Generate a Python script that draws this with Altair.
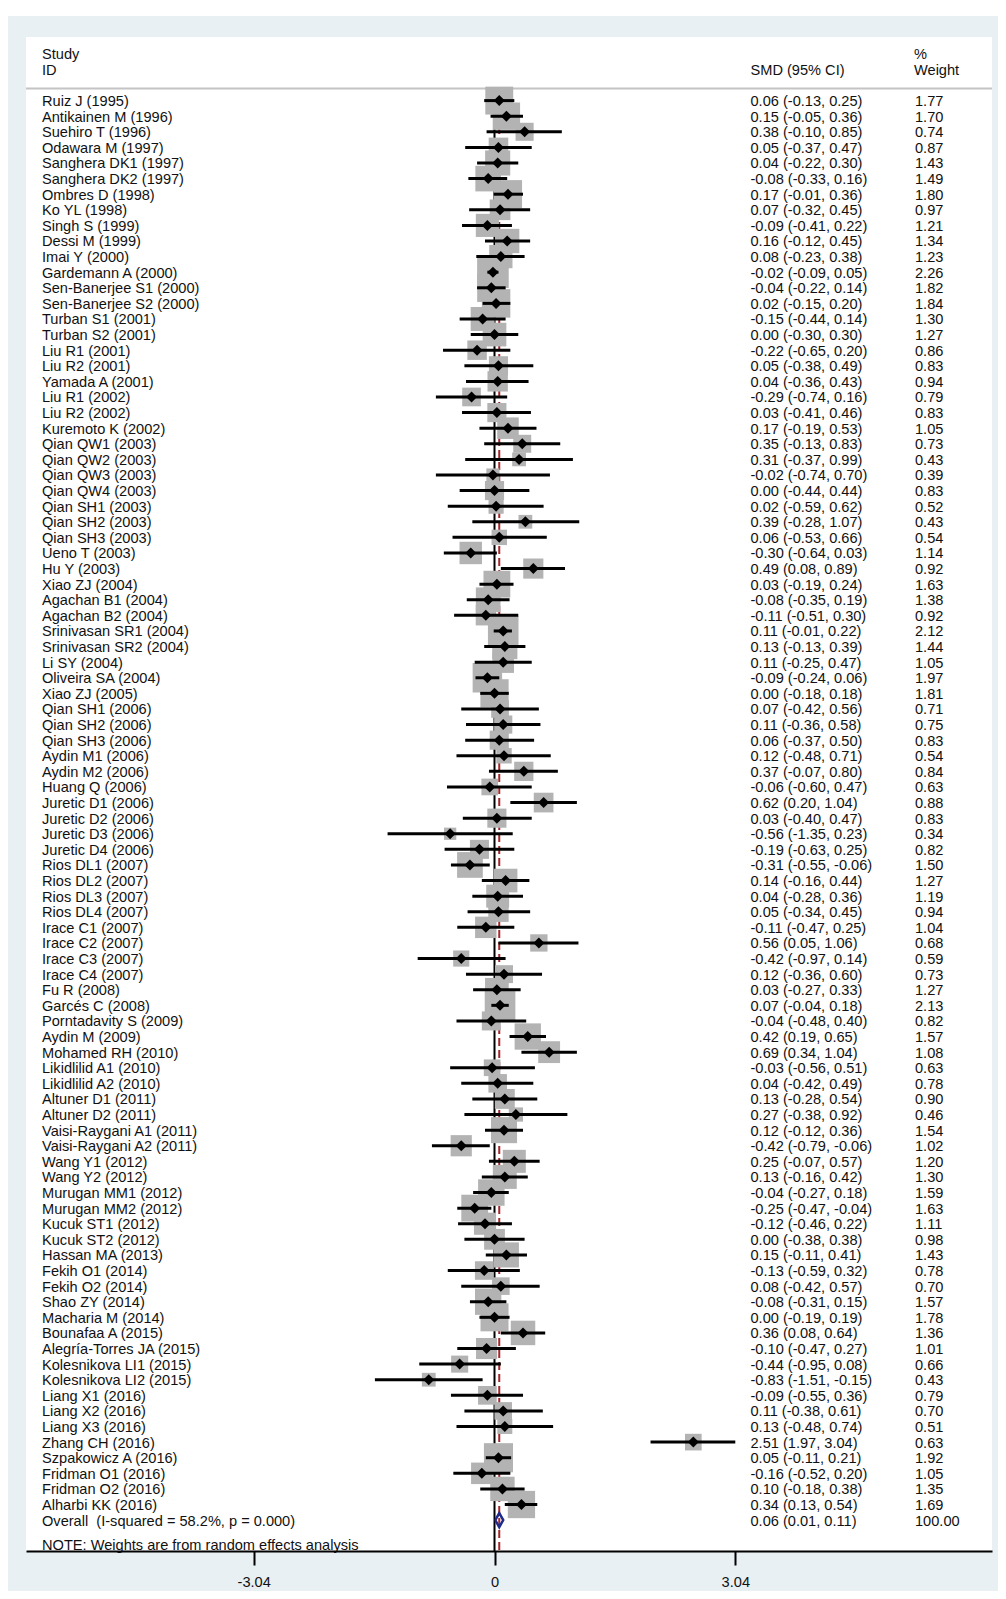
import altair as alt
import pandas as pd

# ---------------- data ----------------
studies = [
    "Ruiz J (1995)", "Antikainen M (1996)", "Suehiro T (1996)", "Odawara M (1997)",
    "Sanghera DK1 (1997)", "Sanghera DK2 (1997)", "Ombres D (1998)", "Ko YL (1998)",
    "Singh S (1999)", "Dessi M (1999)", "Imai Y (2000)", "Gardemann A (2000)",
    "Sen-Banerjee S1 (2000)", "Sen-Banerjee S2 (2000)", "Turban S1 (2001)", "Turban S2 (2001)",
    "Liu R1 (2001)", "Liu R2 (2001)", "Yamada A (2001)", "Liu R1 (2002)", "Liu R2 (2002)",
    "Kuremoto K (2002)", "Qian QW1 (2003)", "Qian QW2 (2003)", "Qian QW3 (2003)",
    "Qian QW4 (2003)", "Qian SH1 (2003)", "Qian SH2 (2003)", "Qian SH3 (2003)",
    "Ueno T (2003)", "Hu Y (2003)", "Xiao ZJ (2004)", "Agachan B1 (2004)", "Agachan B2 (2004)",
    "Srinivasan SR1 (2004)", "Srinivasan SR2 (2004)", "Li SY (2004)", "Oliveira SA (2004)",
    "Xiao ZJ (2005)", "Qian SH1 (2006)", "Qian SH2 (2006)", "Qian SH3 (2006)",
    "Aydin M1 (2006)", "Aydin M2 (2006)", "Huang Q (2006)", "Juretic D1 (2006)",
    "Juretic D2 (2006)", "Juretic D3 (2006)", "Juretic D4 (2006)", "Rios DL1 (2007)",
    "Rios DL2 (2007)", "Rios DL3 (2007)", "Rios DL4 (2007)", "Irace C1 (2007)",
    "Irace C2 (2007)", "Irace C3 (2007)", "Irace C4 (2007)", "Fu R (2008)", "Garcés C (2008)",
    "Porntadavity S (2009)", "Aydin M (2009)", "Mohamed RH (2010)", "Likidlilid A1 (2010)",
    "Likidlilid A2 (2010)", "Altuner D1 (2011)", "Altuner D2 (2011)",
    "Vaisi-Raygani A1 (2011)", "Vaisi-Raygani A2 (2011)", "Wang Y1 (2012)", "Wang Y2 (2012)",
    "Murugan MM1 (2012)", "Murugan MM2 (2012)", "Kucuk ST1 (2012)", "Kucuk ST2 (2012)",
    "Hassan MA (2013)", "Fekih O1 (2014)", "Fekih O2 (2014)", "Shao ZY (2014)",
    "Macharia M (2014)", "Bounafaa A (2015)", "Alegría-Torres JA (2015)",
    "Kolesnikova LI1 (2015)", "Kolesnikova LI2 (2015)", "Liang X1 (2016)", "Liang X2 (2016)",
    "Liang X3 (2016)", "Zhang CH (2016)", "Szpakowicz A (2016)", "Fridman O1 (2016)",
    "Fridman O2 (2016)", "Alharbi KK (2016)",
]
es = [0.06, 0.15, 0.38, 0.05, 0.04, -0.08, 0.17, 0.07, -0.09, 0.16, 0.08, -0.02,
      -0.04, 0.02, -0.15, 0.00, -0.22, 0.05, 0.04, -0.29, 0.03, 0.17, 0.35, 0.31,
      -0.02, 0.00, 0.02, 0.39, 0.06, -0.30, 0.49, 0.03, -0.08, -0.11, 0.11, 0.13,
      0.11, -0.09, 0.00, 0.07, 0.11, 0.06, 0.12, 0.37, -0.06, 0.62, 0.03, -0.56,
      -0.19, -0.31, 0.14, 0.04, 0.05, -0.11, 0.56, -0.42, 0.12, 0.03, 0.07, -0.04,
      0.42, 0.69, -0.03, 0.04, 0.13, 0.27, 0.12, -0.42, 0.25, 0.13, -0.04, -0.25,
      -0.12, 0.00, 0.15, -0.13, 0.08, -0.08, 0.00, 0.36, -0.10, -0.44, -0.83, -0.09,
      0.11, 0.13, 2.51, 0.05, -0.16, 0.10, 0.34]
lci = [-0.13, -0.05, -0.10, -0.37, -0.22, -0.33, -0.01, -0.32, -0.41, -0.12, -0.23, -0.09,
       -0.22, -0.15, -0.44, -0.30, -0.65, -0.38, -0.36, -0.74, -0.41, -0.19, -0.13, -0.37,
       -0.74, -0.44, -0.59, -0.28, -0.53, -0.64, 0.08, -0.19, -0.35, -0.51, -0.01, -0.13,
       -0.25, -0.24, -0.18, -0.42, -0.36, -0.37, -0.48, -0.07, -0.60, 0.20, -0.40, -1.35,
       -0.63, -0.55, -0.16, -0.28, -0.34, -0.47, 0.05, -0.97, -0.36, -0.27, -0.04, -0.48,
       0.19, 0.34, -0.56, -0.42, -0.28, -0.38, -0.12, -0.79, -0.07, -0.16, -0.27, -0.47,
       -0.46, -0.38, -0.11, -0.59, -0.42, -0.31, -0.19, 0.08, -0.47, -0.95, -1.51, -0.55,
       -0.38, -0.48, 1.97, -0.11, -0.52, -0.18, 0.13]
uci = [0.25, 0.36, 0.85, 0.47, 0.30, 0.16, 0.36, 0.45, 0.22, 0.45, 0.38, 0.05,
       0.14, 0.20, 0.14, 0.30, 0.20, 0.49, 0.43, 0.16, 0.46, 0.53, 0.83, 0.99,
       0.70, 0.44, 0.62, 1.07, 0.66, 0.03, 0.89, 0.24, 0.19, 0.30, 0.22, 0.39,
       0.47, 0.06, 0.18, 0.56, 0.58, 0.50, 0.71, 0.80, 0.47, 1.04, 0.47, 0.23,
       0.25, -0.06, 0.44, 0.36, 0.45, 0.25, 1.06, 0.14, 0.60, 0.33, 0.18, 0.40,
       0.65, 1.04, 0.51, 0.49, 0.54, 0.92, 0.36, -0.06, 0.57, 0.42, 0.18, -0.04,
       0.22, 0.38, 0.41, 0.32, 0.57, 0.15, 0.19, 0.64, 0.27, 0.08, -0.15, 0.36,
       0.61, 0.74, 3.04, 0.21, 0.20, 0.38, 0.54]
weights = [1.77, 1.70, 0.74, 0.87, 1.43, 1.49, 1.80, 0.97, 1.21, 1.34, 1.23, 2.26,
           1.82, 1.84, 1.30, 1.27, 0.86, 0.83, 0.94, 0.79, 0.83, 1.05, 0.73, 0.43,
           0.39, 0.83, 0.52, 0.43, 0.54, 1.14, 0.92, 1.63, 1.38, 0.92, 2.12, 1.44,
           1.05, 1.97, 1.81, 0.71, 0.75, 0.83, 0.54, 0.84, 0.63, 0.88, 0.83, 0.34,
           0.82, 1.50, 1.27, 1.19, 0.94, 1.04, 0.68, 0.59, 0.73, 1.27, 2.13, 0.82,
           1.57, 1.08, 0.63, 0.78, 0.90, 0.46, 1.54, 1.02, 1.20, 1.30, 1.59, 1.63,
           1.11, 0.98, 1.43, 0.78, 0.70, 1.57, 1.78, 1.36, 1.01, 0.66, 0.43, 0.79,
           0.70, 0.51, 0.63, 1.92, 1.05, 1.35, 1.69]

overall_label = "Overall\u00a0 (I-squared = 58.2%, p = 0.000)"
overall_es, overall_lci, overall_uci, overall_w = 0.06, 0.01, 0.11, 100.00
note_text = "NOTE: Weights are from random effects analysis"
tick_values = [-3.04, 0, 3.04]
null_value = [0]

# ---------------- layout ----------------
FONT = "Liberation Sans"
FS = 14.6
W, H = 966, 1514
X_DOMAIN = [-5.915, 6.281]
Y_DOMAIN = [-3.077, 93.98]
BG = "#e8f0f3"
BOX = "#b3b3b3"
NAVY = "#1f2a8c"
RED = "#a3262a"
TXT = "#111111"

n = len(studies)
df = pd.DataFrame({
    "row": list(range(1, n + 1)),
    "study": studies, "es": es, "lci": lci, "uci": uci, "w": weights,
})
df["size"] = df["w"] * 441.0

txt = pd.DataFrame({
    "row": list(range(1, n + 2)),
    "study": studies + [overall_label],
    "smd": [f"{e:.2f} ({l:.2f}, {u:.2f})" for e, l, u in zip(es, lci, uci)]
           + [f"{overall_es:.2f} ({overall_lci:.2f}, {overall_uci:.2f})"],
    "wt": [f"{w:.2f}" for w in weights] + [f"{overall_w:.2f}"],
})

orow = n + 1
hh = 0.45
diamond = pd.DataFrame({
    "x": [overall_lci, overall_es, overall_uci, overall_es, overall_lci],
    "row": [orow, orow - hh, orow, orow + hh, orow],
    "o": [0, 1, 2, 3, 4],
})

xs = alt.Scale(domain=X_DOMAIN, zero=False, nice=False)
ys = alt.Scale(domain=Y_DOMAIN, reverse=True, zero=False, nice=False)
xaxis = alt.Axis(
    values=tick_values, grid=False, domain=True, domainColor="#000000", domainWidth=2,
    ticks=True, tickColor="#000000", tickWidth=2, tickSize=14,
    labelFont=FONT, labelFontSize=FS, labelColor=TXT, labelPadding=9, zindex=1,
    labelExpr="datum.value < 0 ? '-' + format(-datum.value, '.2~f') : format(datum.value, '.2~f')",
)


def X(field):
    return alt.X(field, scale=xs, axis=xaxis, title=None)


Y = alt.Y("row:Q", scale=ys, axis=None)

# background panels
bg = alt.Chart(pd.DataFrame({"a": [0]})).mark_rect(color=BG).encode(
    x=alt.value(-18), x2=alt.value(W + 6), y=alt.value(-21), y2=alt.value(H + 40))
panel = alt.Chart(pd.DataFrame({"a": [0]})).mark_rect(color="#ffffff").encode(
    x=alt.value(0), x2=alt.value(W), y=alt.value(0), y2=alt.value(H))
sep = alt.Chart(pd.DataFrame({"a": [0]})).mark_rule(color="#c4c4c4", strokeWidth=2).encode(
    x=alt.value(0), x2=alt.value(W), y=alt.value(51.5))

null_line = alt.Chart(pd.DataFrame({"x": null_value})).mark_rule(
    color="#000000", strokeWidth=2).encode(x=X("x:Q"), y=alt.value(53), y2=alt.value(H))
overall_line = alt.Chart(pd.DataFrame({"x": [overall_es]})).mark_rule(
    color=RED, strokeWidth=2, strokeDash=[8, 4]).encode(
    x=X("x:Q"), y=alt.value(53), y2=alt.value(H))

boxes = alt.Chart(df).mark_point(shape="square", filled=True, opacity=1, color=BOX).encode(
    x=X("es:Q"), y=Y, size=alt.Size("size:Q", scale=None, legend=None))
ci = alt.Chart(df).mark_rule(color="#000000", strokeWidth=3).encode(
    x=X("lci:Q"), x2="uci:Q", y=Y)
pts = alt.Chart(df).mark_point(shape="diamond", filled=True, opacity=1, size=121,
                               color="#000000").encode(x=X("es:Q"), y=Y)
dia = alt.Chart(diamond).mark_line(color=NAVY, strokeWidth=2.5, strokeJoin="miter").encode(
    x=X("x:Q"), y=Y, order="o:Q")

tprops = dict(align="left", baseline="middle", font=FONT, fontSize=FS, color=TXT, dy=1.5)
t_study = alt.Chart(txt).mark_text(**tprops).encode(x=alt.value(16), y=Y, text="study:N")
t_smd = alt.Chart(txt).mark_text(**tprops).encode(x=alt.value(724.5), y=Y, text="smd:N")
t_wt = alt.Chart(txt).mark_text(**tprops).encode(x=alt.value(889), y=Y, text="wt:N")


def header(text, x, y):
    return alt.Chart(pd.DataFrame({"t": [text]})).mark_text(**tprops).encode(
        x=alt.value(x), y=alt.value(y), text="t:N")


headers = [
    header("Study", 16, 16.5), header("ID", 16, 32.5),
    header("SMD (95% CI)", 724.5, 32.5),
    header("%", 888, 16.5), header("Weight", 888, 32.5),
    header(note_text, 16, 1507),
]

chart = alt.layer(
    bg, panel, sep, null_line, overall_line, boxes, ci, pts, dia,
    t_study, t_smd, t_wt, *headers,
).properties(
    width=W, height=H,
    padding={"left": 18, "top": 29, "right": 6, "bottom": 40},
    autosize=alt.AutoSizeParams(type="none"),
    background="#ffffff",
).configure_view(stroke=None)

chart.save("out.html", embed_options={"renderer": "svg", "actions": False})
